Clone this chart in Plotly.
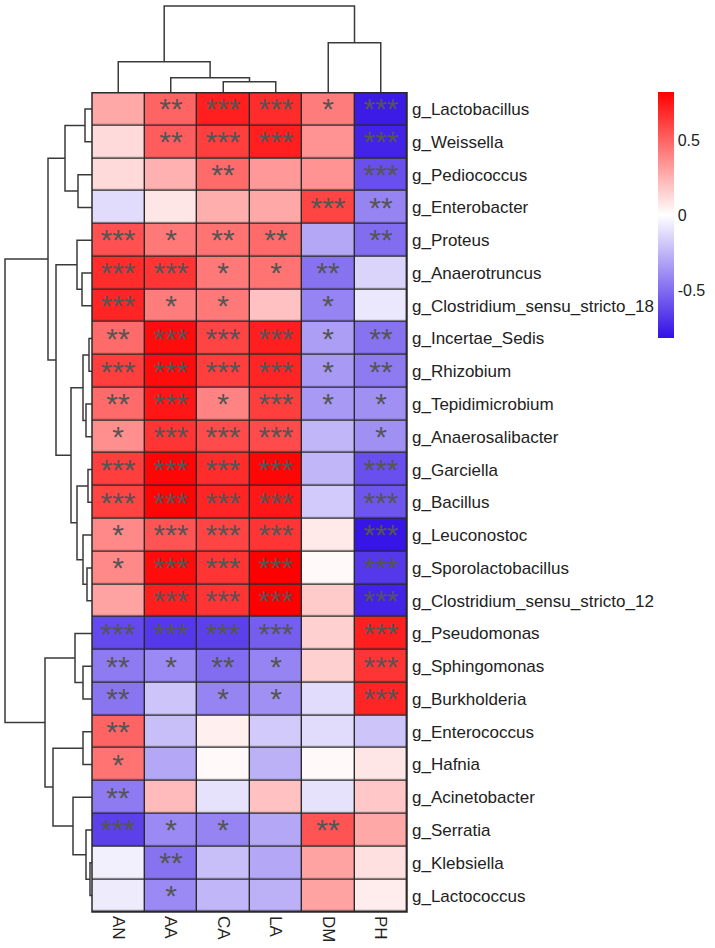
import plotly.graph_objects as go

# ---------------- data ----------------
columns = ["AN", "AA", "CA", "LA", "DM", "PH"]
genera = [
    "g_Lactobacillus", "g_Weissella", "g_Pediococcus", "g_Enterobacter", "g_Proteus",
    "g_Anaerotruncus", "g_Clostridium_sensu_stricto_18", "g_Incertae_Sedis", "g_Rhizobium",
    "g_Tepidimicrobium", "g_Anaerosalibacter", "g_Garciella", "g_Bacillus", "g_Leuconostoc",
    "g_Sporolactobacillus", "g_Clostridium_sensu_stricto_12", "g_Pseudomonas", "g_Sphingomonas",
    "g_Burkholderia", "g_Enterococcus", "g_Hafnia", "g_Acinetobacter", "g_Serratia",
    "g_Klebsiella", "g_Lactococcus",
]

r_AN = [0.28, 0.12, 0.12, -0.12, 0.56, 0.68, 0.70, 0.48, 0.62, 0.48, 0.36, 0.62, 0.60,
        0.38, 0.38, 0.30, -0.62, -0.45, -0.47, 0.50, 0.45, -0.45, -0.65, -0.05, -0.07]
r_AA = [0.50, 0.52, 0.25, 0.08, 0.43, 0.65, 0.42, 0.78, 0.78, 0.75, 0.65, 0.80, 0.80,
        0.55, 0.78, 0.72, -0.68, -0.40, -0.20, -0.22, -0.30, 0.22, -0.40, -0.48, -0.40]
r_CA = [0.72, 0.62, 0.48, 0.26, 0.45, 0.43, 0.43, 0.60, 0.62, 0.40, 0.58, 0.68, 0.70,
        0.60, 0.65, 0.65, -0.65, -0.50, -0.42, 0.05, 0.02, -0.10, -0.42, -0.22, -0.25]
r_LA = [0.68, 0.72, 0.33, 0.28, 0.48, 0.45, 0.20, 0.72, 0.70, 0.62, 0.58, 0.80, 0.75,
        0.65, 0.82, 0.82, -0.55, -0.42, -0.38, -0.18, -0.27, 0.20, -0.30, -0.30, -0.27]
r_DM = [0.42, 0.35, 0.35, 0.60, -0.30, -0.48, -0.42, -0.33, -0.35, -0.35, -0.25, -0.25, -0.18,
        0.07, 0.02, 0.17, 0.15, 0.15, -0.12, -0.12, 0.02, -0.10, 0.55, 0.30, 0.30]
r_PH = [-0.78, -0.75, -0.60, -0.42, -0.50, -0.15, -0.08, -0.48, -0.45, -0.38, -0.38, -0.60, -0.58,
        -0.80, -0.68, -0.75, 0.72, 0.65, 0.70, -0.20, 0.08, 0.18, 0.28, 0.10, 0.06]

s_AN = ["", "", "", "", "***", "***", "***", "**", "***", "**", "*", "***", "***",
        "*", "*", "", "***", "**", "**", "**", "*", "**", "***", "", ""]
s_AA = ["**", "**", "", "", "*", "***", "*", "***", "***", "***", "***", "***", "***",
        "***", "***", "***", "***", "*", "", "", "", "", "*", "**", "*"]
s_CA = ["***", "***", "**", "", "**", "*", "*", "***", "***", "*", "***", "***", "***",
        "***", "***", "***", "***", "**", "*", "", "", "", "*", "", ""]
s_LA = ["***", "***", "", "", "**", "*", "", "***", "***", "***", "***", "***", "***",
        "***", "***", "***", "***", "*", "*", "", "", "", "", "", ""]
s_DM = ["*", "", "", "***", "", "**", "*", "*", "*", "*", "", "", "",
        "", "", "", "", "", "", "", "", "", "**", "", ""]
s_PH = ["***", "***", "***", "**", "**", "", "", "**", "**", "*", "*", "***", "***",
        "***", "***", "***", "***", "***", "***", "", "", "", "", "", ""]

# hierarchical clustering (display-order leaf indices; internal nodes numbered after leaves)
row_merge_a = [0, 2, 25, 5, 4, 7, 9, 30, 11, 14, 13, 33, 32, 29, 27, 17, 16, 19, 23, 22, 21, 42, 41, 39]
row_merge_b = [1, 3, 26, 6, 28, 8, 10, 31, 12, 15, 34, 35, 36, 37, 38, 18, 40, 20, 24, 43, 44, 45, 46, 47]
row_merge_h = [7, 14, 27, 10, 15, 3, 6, 9, 4, 5, 9, 15, 21, 36, 44, 9, 17, 9, 2, 6, 19, 39, 47, 87]

col_merge_a = [2, 1, 0, 4, 8]
col_merge_b = [3, 6, 7, 5, 9]
col_merge_h = [11, 15, 31, 50, 87]

# ---------------- helpers ----------------
def dendro_segments(n_leaves, ma, mb, mh):
    pos = {i: float(i) for i in range(n_leaves)}
    hgt = {i: 0.0 for i in range(n_leaves)}
    P, H = [], []
    for k, (a, b, h) in enumerate(zip(ma, mb, mh)):
        node = n_leaves + k
        P += [pos[a], pos[a], pos[b], pos[b], None]
        H += [hgt[a], h, h, hgt[b], None]
        pos[node] = (pos[a] + pos[b]) / 2
        hgt[node] = h
    return P, H

cols_vals = [r_AN, r_AA, r_CA, r_LA, r_DM, r_PH]
cols_stars = [s_AN, s_AA, s_CA, s_LA, s_DM, s_PH]
nr, nc = len(genera), len(columns)
z = [[cols_vals[j][i] for j in range(nc)] for i in range(nr)]
txt = [[cols_stars[j][i] for j in range(nc)] for i in range(nr)]

W, Hh = 715, 948
hx0, hx1 = 92 / W, 407 / W
hy0, hy1 = 1 - 912 / Hh, 1 - 92.7 / Hh

FONT = "Liberation Sans, Arial, sans-serif"

fig = go.Figure()

fig.add_trace(go.Heatmap(
    z=z, x=list(range(nc)), y=list(range(nr)),
    text=txt, texttemplate="%{text}",
    textfont=dict(size=30, color="#555555", family=FONT),
    colorscale=[[0, "rgb(50,15,230)"], [0.5, "rgb(255,255,255)"], [1, "rgb(255,0,0)"]],
    zmin=-0.82, zmax=0.82, xgap=1.4, ygap=1.4,
    colorbar=dict(
        x=658 / W, xanchor="left", xpad=0, y=1 - 92 / Hh, yanchor="top", ypad=0,
        len=246 / Hh, lenmode="fraction", thickness=16, outlinewidth=0,
        tickvals=[-0.5, 0, 0.5], ticktext=["-0.5", "0", "0.5"], ticks="", ticklen=0,
        tickfont=dict(size=16, color="#222222", family=FONT),
    ),
    hoverinfo="skip",
))

rp, rh = dendro_segments(nr, row_merge_a, row_merge_b, row_merge_h)
fig.add_trace(go.Scatter(x=rh, y=rp, mode="lines", xaxis="x2", yaxis="y2",
                         line=dict(color="#3a3a3a", width=1.5), hoverinfo="skip", showlegend=False))
cp, ch = dendro_segments(nc, col_merge_a, col_merge_b, col_merge_h)
fig.add_trace(go.Scatter(x=cp, y=ch, mode="lines", xaxis="x3", yaxis="y3",
                         line=dict(color="#3a3a3a", width=1.5), hoverinfo="skip", showlegend=False))

fig.update_layout(
    width=W, height=Hh, margin=dict(l=0, r=0, t=0, b=0),
    paper_bgcolor="white", plot_bgcolor="white", showlegend=False,
    font=dict(family=FONT, color="#222222"),
    xaxis=dict(domain=[hx0, hx1], range=[-0.5, nc - 0.5], tickvals=list(range(nc)), ticktext=columns,
               tickangle=90, tickfont=dict(size=17, color="#222222"), ticks="", showgrid=False,
               zeroline=False, showline=False, fixedrange=True, ticklabelstandoff=3),
    yaxis=dict(domain=[hy0, hy1], range=[nr - 0.5, -0.5], tickvals=list(range(nr)), ticktext=genera,
               side="right", tickfont=dict(size=17, color="#222222"), ticks="", showgrid=False,
               zeroline=False, showline=False, fixedrange=True, anchor="x", ticklabelstandoff=4),
    xaxis2=dict(domain=[4 / W, hx0], range=[88, 0], visible=False, anchor="y2"),
    yaxis2=dict(domain=[hy0, hy1], range=[nr - 0.5, -0.5], visible=False, anchor="x2"),
    xaxis3=dict(domain=[hx0, hx1], range=[-0.5, nc - 0.5], visible=False, anchor="y3"),
    yaxis3=dict(domain=[hy1, 1 - 5 / Hh], range=[0, 88], visible=False, anchor="x3"),
    shapes=[
        dict(type="rect", xref="x domain", yref="y domain", x0=0, x1=1, y0=0, y1=1,
             fillcolor="#2a2a2a", line=dict(width=0), layer="below"),
        dict(type="rect", xref="x domain", yref="y domain", x0=0, x1=1, y0=0, y1=1,
             fillcolor="rgba(0,0,0,0)", line=dict(color="#2a2a2a", width=1.5), layer="above"),
    ],
)

fig.write_html("out.html")
